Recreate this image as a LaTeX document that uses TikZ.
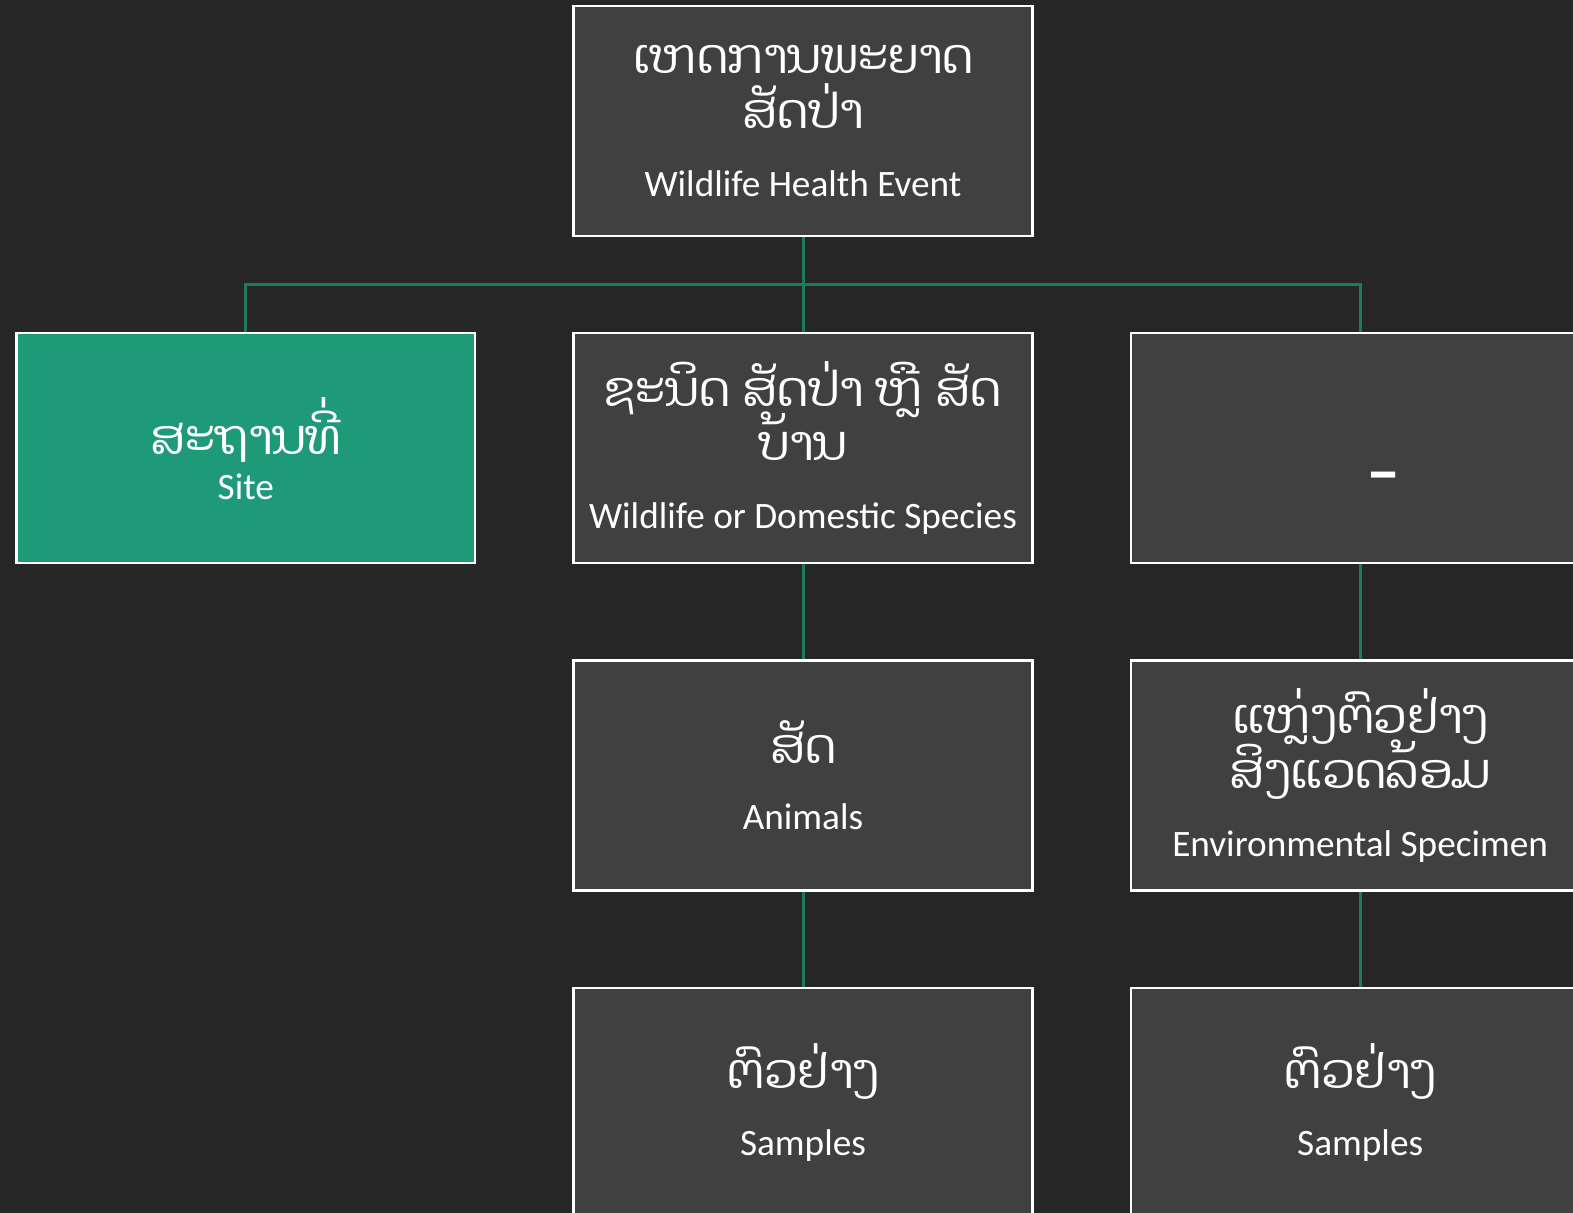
\documentclass[tikz,border=0pt]{standalone}
\usepackage{fontspec}
\setmainfont{Carlito}
\newfontfamily\laofont[Script=Lao]{Dhyana}
\usetikzlibrary{positioning, calc}
\definecolor{bgdark}{HTML}{262626}
\definecolor{boxgray}{HTML}{404040}
\definecolor{sitegreen}{HTML}{1E9A78}
\definecolor{linkgreen}{HTML}{1B7A5C}
\newcommand{\lao}{\laofont\fontsize{27.5}{31}\selectfont}
\newcommand{\eng}{\rmfamily\fontsize{21.2}{25}\selectfont}
\tikzset{main node/.style={rectangle, draw=white, fill=boxgray, line width=1.3pt, text=white, align=center, minimum width=9.18cm, minimum height=4.6cm, inner sep=0pt, font={\lao\lineskiplimit=-100pt}},}
\tikzset{link/.style={draw=linkgreen, line width=1.7pt},}

\begin{document}
\begin{tikzpicture}[x=0.02cm, y=-0.02cm]
			% Canvas
			\fill[bgdark] (0,0) rectangle (1573,1213);
			\clip (0,0) rectangle (1573,1213);
			% Boxes
			\node[main node] (event) at (803,121) {ເຫດການພະຍາດ\\ສັດປ່າ\\[0.27cm]\eng Wildlife Health Event};
			\node[main node] [below = 1.9cm of event] (species) {ຊະນິດ ສັດປ່າ ຫຼື ສັດ\\ບ້ານ\\[0.27cm]\eng Wildlife or Domestic Species};
			\node[main node, fill=sitegreen] [left = 1.92cm of species] (site) {ສະຖານທີ່\\[-0.19cm]\eng Site};
			\node[main node] [right = 1.92cm of species] (envsite) {\raisebox{-0.92cm}[0pt][0pt]{\makebox[0pt]{\hspace{0.92cm}\rmfamily\bfseries\fontsize{39}{40}\selectfont –}}};
			\node[main node] [below = 1.9cm of species] (animals) {ສັດ\\[0.23cm]\eng Animals};
			\node[main node] [below = 1.9cm of envsite] (envspec) {ແຫຼ່ງຕົວຢ່າງ\\ສິງແວດລ້ອມ\\[0.27cm]\eng Environmental Specimen};
			\node[main node] [below = 1.9cm of animals] (animalsamples) {ຕົວຢ່າງ\\[0.25cm]\eng Samples};
			\node[main node] [below = 1.9cm of envspec] (envsamples) {ຕົວຢ່າງ\\[0.25cm]\eng Samples};
			% Links
			\path[link]
			(event) edge (species)
			(species) edge (animals)
			(animals) edge (animalsamples)
			(envsite) edge (envspec)
			(envspec) edge (envsamples);
			\draw[link] (site.north) |- ($(event.south)!0.5!(species.north)$) -| (envsite.north);
		\end{tikzpicture}
\end{document}
